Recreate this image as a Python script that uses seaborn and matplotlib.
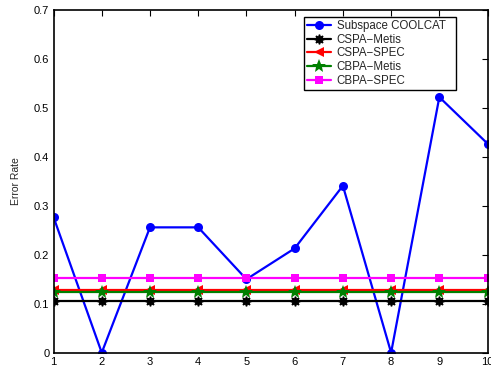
import matplotlib
matplotlib.use("Agg")
import matplotlib.pyplot as plt
import seaborn as sns
import pandas as pd
from matplotlib.ticker import FuncFormatter

runs = [1, 2, 3, 4, 5, 6, 7, 8, 9, 10]
subspace_coolcat = [0.277, 0.0, 0.256, 0.256, 0.150, 0.213, 0.341, 0.0, 0.522, 0.427]
cspa_metis = [0.106] * 10
cspa_spec = [0.128] * 10
cbpa_metis = [0.124] * 10
cbpa_spec = [0.153] * 10

series_names = ["Subspace COOLCAT", "CSPA\u2212Metis", "CSPA\u2212SPEC", "CBPA\u2212Metis", "CBPA\u2212SPEC"]
series_values = [subspace_coolcat, cspa_metis, cspa_spec, cbpa_metis, cbpa_spec]

sns.set_theme(style="white")
plt.rcParams["font.family"] = ["Liberation Sans", "DejaVu Sans"]
plt.rcParams["font.size"] = 8

fig = plt.figure(figsize=(4.91, 3.77), dpi=100)
ax = fig.add_axes([0.109, 0.0645, 0.884, 0.909])

styles = [
    dict(color="#0000ff", marker="o", markersize=6.5, markeredgewidth=0),
    dict(color="#000000", marker=(8, 1, 0), markersize=7, markeredgewidth=1.0),
    dict(color="#ff0000", marker="<", markersize=7, markeredgewidth=0),
    dict(color="#008000", marker="*", markersize=10, markeredgewidth=0),
    dict(color="#ff00ff", marker="s", markersize=6, markeredgewidth=0),
]

for name, vals, st in zip(series_names, series_values, styles):
    df = pd.DataFrame({"run": runs, "err": vals})
    sns.lineplot(data=df, x="run", y="err", ax=ax, label=name,
                 linewidth=1.6, markerfacecolor=st["color"],
                 markeredgecolor=st["color"], **st)

ax.set_xlim(1, 10)
ax.set_ylim(0, 0.7)
ax.set_xticks(runs)
ax.set_yticks([0, 0.1, 0.2, 0.3, 0.4, 0.5, 0.6, 0.7])
ax.yaxis.set_major_formatter(FuncFormatter(lambda v, p: f"{v:g}"))
ax.set_xlabel("")
ax.set_ylabel("Error Rate", fontsize=7.5, labelpad=9)
ax.tick_params(direction="in", length=4, width=0.8, top=True, right=True,
               labelsize=8, colors="black", pad=3)
for sp in ax.spines.values():
    sp.set_color("black")
    sp.set_linewidth(1.2)
    sp.set_visible(True)

leg = ax.legend(loc="upper left", bbox_to_anchor=(0.577, 0.0, 0.350, 0.9787),
                mode="expand", fontsize=8.3,
                frameon=True, fancybox=False, framealpha=1, edgecolor="black",
                borderpad=0.25, labelspacing=0.14, handlelength=2.1,
                handletextpad=0.5, borderaxespad=0)
leg.get_frame().set_linewidth(1.0)

fig.savefig("out.png", dpi=100)
